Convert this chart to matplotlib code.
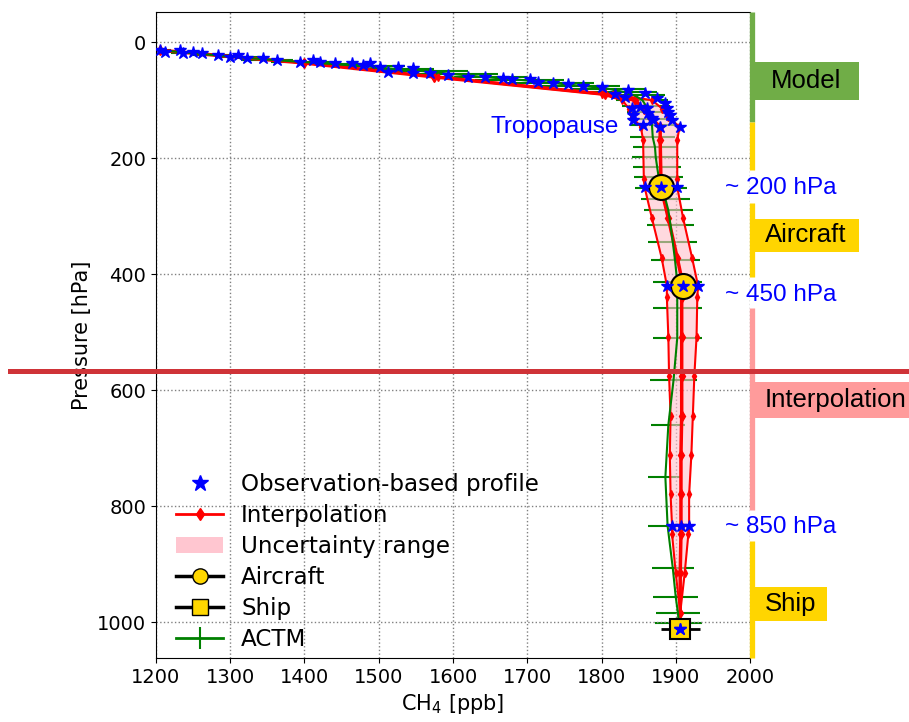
import matplotlib.pyplot as plt
from matplotlib.lines import Line2D
from matplotlib.patches import Patch, Rectangle

# observation-based CH4 profile: stratosphere from model, troposphere from aircraft/ship
obs_p = [14, 17, 14, 19, 17, 19, 22, 26, 22, 28, 28, 31, 34, 31, 34, 36, 36, 40, 36, 43,
         52, 43, 45, 54, 54, 57, 60, 60, 62, 64, 64, 69, 71, 73, 75, 77, 90,
         94, 114, 126, 134, 143,
         83, 88, 112, 114, 122, 131, 134, 146,
         97, 105, 114, 120, 126, 134, 146,
         250, 250, 250, 420, 420, 420, 834, 834, 834, 1012]
obs_ch4 = [1205, 1212, 1232, 1236, 1250, 1262, 1283, 1300, 1310, 1323, 1344, 1363, 1394, 1411, 1421, 1441,
           1464, 1479, 1488, 1502, 1512, 1526, 1546, 1546, 1569, 1593, 1620, 1643, 1667, 1679, 1704, 1714,
           1735, 1755, 1775, 1800, 1818,
           1832, 1841, 1843, 1843, 1856,
           1836, 1859, 1852, 1861, 1863, 1868, 1870, 1879,
           1875, 1886, 1888, 1890, 1892, 1895, 1906,
           1858, 1880, 1902, 1888, 1910, 1930, 1895, 1907, 1918, 1906]

# interpolated profile and its lower / upper bounds
interp_p = [14, 36, 60, 90, 100, 115, 129, 146, 169, 236, 250, 304, 372, 420, 440,
            508, 576, 644, 712, 780, 834, 848, 916, 984]
interp_low = [1205, 1400, 1575, 1800, 1828, 1837, 1841, 1853, 1856, 1857, 1858, 1868, 1881, 1888, 1888,
              1890, 1891, 1893, 1892, 1893, 1895, 1895, 1900, 1906]
interp_mid = [1205, 1400, 1575, 1805, 1845, 1857, 1865, 1879, 1879, 1880, 1880, 1890, 1902, 1910, 1908,
              1908, 1908, 1908, 1907, 1907, 1907, 1907, 1906, 1906]
interp_high = [1205, 1400, 1580, 1815, 1868, 1882, 1890, 1905, 1902, 1902, 1902, 1910, 1922, 1930, 1929,
               1928, 1925, 1923, 1921, 1918, 1918, 1917, 1912, 1906]

aircraft_p = [250, 420]
aircraft_ch4 = [1880, 1910]
ship_p = [1012]
ship_ch4 = [1906]
ship_err = [26]

# ACTM model profile with spread
actm_p = [14, 18, 22, 26, 30, 34, 38, 42, 46, 50, 55, 60, 65, 70, 75, 80, 86, 92, 100, 110, 121, 132, 143,
          164, 181, 198, 216, 233, 252, 270, 290, 316, 345, 376, 414, 459, 510, 583, 660, 750, 834,
          907, 957, 985, 1002]
actm_ch4 = [1205, 1240, 1275, 1310, 1350, 1395, 1440, 1485, 1520, 1560, 1600, 1640, 1690, 1730, 1770,
            1808, 1830, 1845, 1855, 1860, 1864, 1866, 1868,
            1869, 1872, 1873, 1875, 1877, 1880, 1886, 1890, 1893, 1896, 1899, 1902, 1902, 1902, 1897,
            1890, 1886, 1889, 1896, 1900, 1903, 1904]
actm_err = [15, 20, 25, 30, 35, 40, 45, 50, 55, 60, 60, 60, 60, 60, 55, 50, 45, 40, 35, 32, 30, 30, 30,
            30, 30, 32, 32, 33, 35, 33, 33, 32, 33, 33, 33, 33, 33, 32, 23, 23, 26, 28, 30, 29, 32]

# data source sections along the right edge (pressure ranges)
section_bars = [(-52, 138, "#70ad47"), (138, 221, "#ffd500"), (278, 405, "#ffd500"),
                (459, 807, "#ff9b9b"), (860, 1062, "#ffd500")]
section_labels = ["Model", "Aircraft", "Interpolation", "Ship"]
section_label_p = [67, 333, 617, 969]
section_colors = ["#70ad47", "#ffd500", "#ff9b9b", "#ffd500"]
level_labels = ["~ 200 hPa", "~ 450 hPa", "~ 850 hPa"]
level_label_p = [252, 436, 836]

fig = plt.figure(figsize=(9.09, 7.22), dpi=100)
ax = fig.add_axes([0.1716, 0.0886, 0.6535, 0.8948])

eb = ax.errorbar(actm_ch4, actm_p, xerr=actm_err, color="g", lw=1.5, elinewidth=1.5,
                 capsize=0, zorder=1)
eb.lines[0].set_zorder(3.5)
ax.fill_betweenx(interp_p, interp_low, interp_high, color="pink", alpha=0.6, lw=0, zorder=2)
ax.plot(interp_low, interp_p, "r-", marker="d", ms=4, lw=1.5, zorder=3)
ax.plot(interp_high, interp_p, "r-", marker="d", ms=4, lw=1.5, zorder=3)
ax.plot(interp_mid, interp_p, "r-", marker="d", ms=5, lw=2.5, zorder=3)
ax.plot(obs_ch4, obs_p, "*", color="b", ms=9, ls="none", zorder=6)
ax.errorbar(aircraft_ch4, aircraft_p, fmt="o", color="k", mfc="#ffd700", mec="k",
            ms=18, mew=1.5, zorder=5)
ax.errorbar(ship_ch4, ship_p, xerr=ship_err, fmt="s", color="k", mfc="#ffd700", mec="k",
            ms=15, mew=1.5, elinewidth=2, capsize=0, zorder=5)
ax.plot(ship_ch4, ship_p, "*", color="b", ms=9, zorder=6)

ax.set_xlim(1200, 2000)
ax.set_ylim(1062, -52)
ax.set_xticks(range(1200, 2001, 100))
ax.set_yticks(range(0, 1001, 200))
ax.tick_params(labelsize=14)
ax.grid(True, ls=":", color="gray", lw=1)
ax.set_xlabel("CH$_4$ [ppb]", fontsize=15)
ax.set_ylabel("Pressure [hPa]", fontsize=15)
ax.spines["right"].set_visible(False)

handles = [
    Line2D([], [], marker="*", color="b", ls="none", ms=12),
    Line2D([], [], marker="d", color="r", ms=6, lw=2),
    Patch(facecolor="pink", alpha=0.9),
    Line2D([], [], marker="o", color="k", mfc="#ffd700", mec="k", ms=11, lw=2.5),
    Line2D([], [], marker="s", color="k", mfc="#ffd700", mec="k", ms=11, lw=2.5),
    Line2D([], [], marker="|", color="g", ms=16, mew=1.5, lw=2),
]
labels = ["Observation-based profile", "Interpolation", "Uncertainty range",
          "Aircraft", "Ship", "ACTM"]
ax.legend(handles, labels, loc="lower left", bbox_to_anchor=(0.019, -0.004), frameon=False,
          fontsize=16.6, labelspacing=0.35, borderaxespad=0)

# section bars and labels beyond the right axis
for p0, p1, c in section_bars:
    ax.plot([2002, 2002], [p0, p1], color=c, lw=3.8, clip_on=False, solid_capstyle="butt", zorder=7)

box_x1 = [2147, 2147, 2260, 2104]
box_h = [66, 57, 61, 60]
for name, p, c, x1, h in zip(section_labels, section_label_p, section_colors, box_x1, box_h):
    ax.add_patch(Rectangle((2004, p - h / 2), x1 - 2004, h, facecolor=c, edgecolor="none",
                           clip_on=False, zorder=7))
    x_text = 2028 if name == "Model" else 2020
    ax.text(x_text, p, name, fontsize=18.5, family="Liberation Sans", color="k",
            va="center", ha="left", zorder=8, clip_on=False)

for lab, p in zip(level_labels, level_label_p):
    ax.text(1966, p, lab, fontsize=17.5, family="Liberation Sans", color="#0000ff",
            va="center", ha="left", clip_on=False)
ax.text(1650, 147, "Tropopause", fontsize=17.5, family="Liberation Sans", color="#0000ff",
        va="center", ha="left")

# horizontal marker across the figure
fig.add_artist(Line2D([0.011, 1.0], [1 - 371 / 722] * 2, transform=fig.transFigure,
                      color="#cf3338", lw=3.6))

fig.savefig("out.png", dpi=100)
